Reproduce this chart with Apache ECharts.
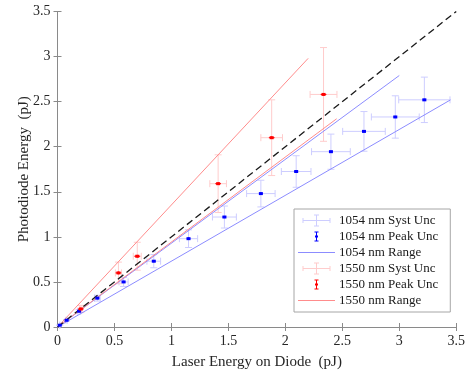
<!DOCTYPE html>
<html>
<head>
<meta charset="utf-8">
<script src="https://cdn.jsdelivr.net/npm/echarts@6/dist/echarts.min.js"></script>
<style>
  html, body { margin: 0; padding: 0; background: #fff; }
  #chart { width: 468px; height: 375px; }
</style>
</head>
<body>
<div id="chart"></div>
<script>
// 1054 nm measurements (laser energy on diode, photodiode energy), pJ
const blueX = [0.02, 0.08, 0.19, 0.35, 0.58, 0.845, 1.15, 1.465, 1.785, 2.095, 2.40, 2.69, 2.965, 3.22];
const blueY = [0.02, 0.075, 0.175, 0.32, 0.50, 0.73, 0.98, 1.22, 1.48, 1.725, 1.945, 2.17, 2.33, 2.52];
// systematic uncertainty half-widths
const blueSystX = [0.0015, 0.006, 0.013, 0.025, 0.04, 0.06, 0.08, 0.105, 0.125, 0.13, 0.17, 0.187, 0.21, 0.225];
const blueSystY = [0.002, 0.008, 0.018, 0.032, 0.05, 0.073, 0.098, 0.122, 0.148, 0.175, 0.195, 0.22, 0.235, 0.252];
// peak uncertainty half-widths
const bluePeakX = [0.012, 0.012, 0.015, 0.015, 0.015, 0.015, 0.015, 0.015, 0.015, 0.015, 0.015, 0.015, 0.015, 0.015];
const bluePeakY = [0.01, 0.01, 0.012, 0.012, 0.012, 0.012, 0.012, 0.012, 0.012, 0.012, 0.012, 0.012, 0.012, 0.012];

// 1550 nm measurements
const redX = [0.205, 0.535, 0.70, 1.41, 1.88, 2.335];
const redY = [0.20, 0.60, 0.785, 1.59, 2.10, 2.58];
const redSystX = [0.01, 0.027, 0.035, 0.073, 0.095, 0.118];
const redSystY = [0.04, 0.12, 0.155, 0.32, 0.42, 0.52];
const redPeakX = [0.025, 0.025, 0.025, 0.025, 0.025, 0.025];
const redPeakY = [0.015, 0.015, 0.015, 0.015, 0.015, 0.015];

// range lines: upper end, origin, lower end
const blueRange = [[3.0, 2.79], [0, 0], [3.45, 2.52]];
const redRange = [[2.2, 2.98], [0, 0], [2.45, 2.31]];
const unityLine = [[0, 0], [3.5, 3.5]];

const FONT = "Liberation Serif";
const BLUE_SYST = "#cdcdff";
const BLUE_PEAK = "#0000ff";
const BLUE_RANGE = "#8c8cff";
const RED_SYST = "#ffcccc";
const RED_PEAK = "#ff0000";
const RED_RANGE = "#ff8c8c";

const zip = (xs, ys, dxs, dys) => xs.map((x, i) => [x, ys[i], dxs[i], dys[i]]);

// draws cross error bars with caps, optionally a small marker
function errorBars(color, cap, marker) {
  return function (params, api) {
    const x = api.value(0), y = api.value(1), dx = api.value(2), dy = api.value(3);
    const c = api.coord([x, y]);
    const l = api.coord([x - dx, y]), r = api.coord([x + dx, y]);
    const t = api.coord([x, y + dy]), b = api.coord([x, y - dy]);
    const style = { stroke: color, lineWidth: 1 };
    const seg = (x1, y1, x2, y2) => ({ type: "line", shape: { x1, y1, x2, y2 }, style });
    const children = [
      seg(l[0], l[1], r[0], r[1]),
      seg(t[0], t[1], b[0], b[1]),
    ];
    if (cap > 0) {
      children.push(
        seg(t[0] - cap, t[1], t[0] + cap, t[1]),
        seg(b[0] - cap, b[1], b[0] + cap, b[1]),
        seg(l[0], l[1] - cap, l[0], l[1] + cap),
        seg(r[0], r[1] - cap, r[0], r[1] + cap)
      );
    }
    if (marker) {
      children.push({ type: "rect", shape: { x: c[0] - 2, y: c[1] - 1.5, width: 4, height: 3 }, style: { fill: color } });
    }
    return { type: "group", children };
  };
}

// legend icons drawn in a 37x12 box (tiny corner anchors fix the box)
const anchors = "M0,0h0.01v0.01h-0.01z M36.99,11.99h0.01v0.01h-0.01z ";
const systIcon = "path://" + anchors +
  "M4.5,5.5h28v1h-28z M18,0h1v12h-1z M16,0h5v1h-5z M16,11h5v1h-5z M4.5,3.5h1v5h-1z M31.5,3.5h1v5h-1z";
const peakIcon = "path://" + anchors +
  "M18,1h1v10h-1z M16.5,1h4v1h-4z M16.5,10h4v1h-4z M17,5h3v2h-3z";
const lineIcon = "path://" + anchors + "M0,5.5h37v1h-37z";

const chart = echarts.init(document.getElementById("chart"));

const valueAxis = (position, show) => ({
  type: "value",
  position,
  min: 0,
  max: 3.5,
  interval: 0.5,
  axisLine: { show: true, lineStyle: { color: "#8a8a8a", width: 1 } },
  axisTick: { show: true, inside: true, length: 4, lineStyle: { color: "#8a8a8a" } },
  axisLabel: {
    show,
    color: "#262626",
    fontFamily: FONT,
    fontSize: 14,
    margin: 7,
    formatter: (v) => String(v),
  },
  splitLine: { show: false },
});

const options = {
  animation: false,
  backgroundColor: "#fff",
  grid: { left: 57.5, right: 10.5, top: 11.5, bottom: 47 },
  xAxis: [
    {
      ...valueAxis("bottom", true),
      name: "Laser Energy on Diode  (pJ)",
      nameLocation: "middle",
      nameGap: 28,
      nameMoveOverlap: false,
      nameTextStyle: { color: "#262626", fontFamily: FONT, fontSize: 15 },
    },
    valueAxis("top", false),
  ],
  yAxis: [
    {
      ...valueAxis("left", true),
      name: "Photodiode Energy  (pJ)",
      nameLocation: "middle",
      nameGap: 26,
      nameMoveOverlap: false,
      nameTextStyle: { color: "#262626", fontFamily: FONT, fontSize: 15 },
    },
    valueAxis("right", false),
  ],
  legend: {
    orient: "vertical",
    left: 294,
    top: 209,
    padding: [5, 12, 5, 4],
    itemWidth: 37,
    itemHeight: 12,
    itemGap: 3,
    selectedMode: false,
    backgroundColor: "#fff",
    borderColor: "#a6a6a6",
    borderWidth: 1,
    textStyle: { color: "#1a1a1a", fontFamily: FONT, fontSize: 13, padding: [0, 0, 0, -1] },
    data: [
      { name: "1054 nm Syst Unc", icon: systIcon },
      { name: "1054 nm Peak Unc", icon: peakIcon },
      { name: "1054 nm Range", icon: lineIcon },
      { name: "1550 nm Syst Unc", icon: systIcon },
      { name: "1550 nm Peak Unc", icon: peakIcon },
      { name: "1550 nm Range", icon: lineIcon },
    ],
  },
  series: [
    {
      name: "1054 nm Syst Unc",
      type: "custom",
      color: BLUE_SYST,
      itemStyle: { color: BLUE_SYST },
      renderItem: errorBars(BLUE_SYST, 3.5, false),
      data: zip(blueX, blueY, blueSystX, blueSystY),
      z: 1,
    },
    {
      name: "1550 nm Syst Unc",
      type: "custom",
      color: RED_SYST,
      itemStyle: { color: RED_SYST },
      renderItem: errorBars(RED_SYST, 3.5, false),
      data: zip(redX, redY, redSystX, redSystY),
      z: 1,
    },
    {
      name: "1054 nm Range",
      type: "line",
      color: BLUE_RANGE,
      symbol: "none",
      itemStyle: { color: BLUE_RANGE },
      lineStyle: { color: BLUE_RANGE, width: 1 },
      data: blueRange,
      z: 2,
    },
    {
      name: "1550 nm Range",
      type: "line",
      color: RED_RANGE,
      symbol: "none",
      itemStyle: { color: RED_RANGE },
      lineStyle: { color: RED_RANGE, width: 1 },
      data: redRange,
      z: 2,
    },
    {
      name: "unity",
      type: "line",
      symbol: "none",
      lineStyle: { color: "#1a1a1a", width: 1.3, type: [7, 4] },
      data: unityLine,
      z: 3,
    },
    {
      name: "1054 nm Peak Unc",
      type: "custom",
      color: BLUE_PEAK,
      itemStyle: { color: BLUE_PEAK },
      renderItem: errorBars(BLUE_PEAK, 0, true),
      data: zip(blueX, blueY, bluePeakX, bluePeakY),
      z: 4,
    },
    {
      name: "1550 nm Peak Unc",
      type: "custom",
      color: RED_PEAK,
      itemStyle: { color: RED_PEAK },
      renderItem: errorBars(RED_PEAK, 0, true),
      data: zip(redX, redY, redPeakX, redPeakY),
      z: 4,
    },
  ],
};

chart.setOption(options);
</script>
</body>
</html>
